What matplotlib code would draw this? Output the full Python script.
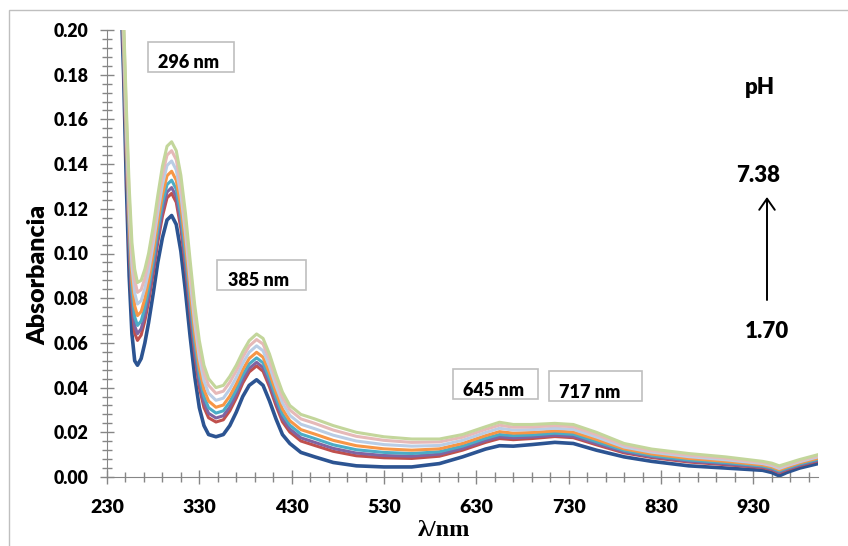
import matplotlib.pyplot as plt
from matplotlib.patches import Rectangle
from matplotlib.ticker import MultipleLocator, FormatStrFormatter

W, H = 848, 546
WEIGHT = 'heavy'

# wavelength grid (nm)
wl = [244, 248, 251, 254, 257, 260, 263, 267, 271, 275,
      280, 285, 290, 295, 300, 305, 310, 315, 320, 325,
      330, 335, 340, 348, 356, 363, 370, 377, 384, 392,
      399, 406, 413, 420, 428, 440, 455, 475, 500, 530,
      560, 590, 615, 640, 655, 670, 690, 715, 735, 760,
      790, 820, 860, 900, 940, 950, 958, 966, 980, 1000]

# absorbance spectra, highest pH (7.38) first
abs_738 = [.240, .205, .165, .130, .105, .093, .087, .088, .093, .100,
           .112, .126, .139, .148, .150, .146, .135, .118, .097, .077,
           .061, .050, .044, .040, .041, .045, .050, .056, .061, .064,
           .062, .055, .046, .038, .032, .028, .026, .023, .020, .018,
           .017, .017, .019, .0225, .0245, .0235, .0235, .024, .0235, .020,
           .015, .0125, .0105, .009, .007, .0062, .005, .006, .0078, .010]
abs_s2 = [.2388, .202, .1608, .1252, .1001, .0881, .0826, .0838, .089, .0963,
          .1084, .1224, .1352, .144, .146, .142, .1309, .1138, .0929, .0732,
          .0574, .0468, .041, .0374, .0384, .0424, .0475, .0536, .0586, .0615,
          .0595, .0525, .0436, .0357, .030, .026, .024, .021, .0182, .0164,
          .0155, .0157, .0178, .0213, .0232, .0223, .0224, .023, .0225, .019,
          .0143, .0118, .0098, .0084, .0065, .0057, .0045, .0055, .0073, .0095]
abs_s3 = [.2374, .1985, .1559, .1196, .0943, .0823, .0774, .0789, .0844, .0919,
          .1042, .1182, .1307, .1394, .1414, .1374, .1262, .1089, .0882, .0687,
          .0532, .043, .0375, .0343, .0353, .0393, .0445, .0508, .0558, .0587,
          .0565, .0495, .0408, .0331, .0276, .0236, .0216, .0187, .0161, .0145,
          .0138, .0141, .0164, .0199, .0218, .021, .0212, .0218, .0213, .0179,
          .0134, .0111, .0091, .0077, .006, .0051, .0038, .005, .0068, .009]
abs_s4 = [.236, .195, .151, .114, .0886, .0766, .0722, .074, .0798, .0876,
          .100, .114, .1262, .1348, .1368, .1328, .1214, .104, .0834, .0642,
          .049, .0392, .034, .0312, .0322, .0362, .0416, .048, .053, .0558,
          .0536, .0466, .038, .0304, .0252, .0212, .0192, .0164, .014, .0126,
          .012, .0126, .015, .0185, .0203, .0196, .0199, .0206, .0201, .0168,
          .0126, .0103, .0083, .007, .0054, .0045, .0032, .0044, .0063, .0084]
abs_s5 = [.2348, .192, .1468, .1092, .0837, .0717, .0678, .0698, .0758, .0839,
          .0964, .1104, .1224, .1308, .1328, .1288, .1173, .0998, .0793, .0604,
          .0454, .036, .031, .0286, .0296, .0336, .0391, .0456, .0506, .0533,
          .0511, .0441, .0356, .0281, .0232, .0192, .0172, .0144, .0122, .011,
          .0105, .0113, .0138, .0173, .019, .0185, .0188, .0196, .0191, .0158,
          .0119, .0096, .0076, .0064, .0049, .004, .0027, .0039, .0058, .0079]
abs_s6 = [.2338, .1895, .1433, .1052, .0796, .0676, .0641, .0663, .0725, .0808,
          .0934, .1074, .1192, .1275, .1295, .1255, .1139, .0963, .0759, .0572,
          .0424, .0333, .0285, .0264, .0274, .0314, .037, .0436, .0486, .0513,
          .049, .042, .0336, .0262, .0215, .0175, .0155, .0128, .0107, .0096,
          .0093, .0102, .0128, .0163, .018, .0175, .0179, .0187, .0182, .015,
          .0113, .0091, .0071, .0059, .0045, .0036, .0022, .0035, .0054, .0075]
abs_s7 = [.233, .1875, .1405, .102, .0763, .0643, .0611, .0635, .0699, .0783,
          .091, .105, .1166, .1249, .1269, .1229, .1112, .0935, .0732, .0546,
          .040, .0311, .0265, .0246, .0256, .0296, .0353, .042, .047, .0497,
          .0473, .0403, .032, .0247, .0201, .0161, .0141, .0115, .0095, .0086,
          .0083, .0093, .012, .0155, .0172, .0167, .0172, .0181, .0176, .0144,
          .0108, .0087, .0067, .0055, .0042, .0033, .0019, .0032, .0051, .0072]
abs_170 = [.230, .180, .130, .090, .064, .052, .050, .053, .060, .069,
           .082, .096, .107, .115, .117, .113, .101, .083, .063, .045,
           .031, .023, .019, .018, .019, .023, .029, .036, .041, .0435,
           .041, .034, .026, .019, .015, .011, .009, .0065, .005, .0045,
           .0045, .006, .009, .0125, .014, .0138, .0145, .0155, .015, .012,
           .009, .007, .005, .004, .003, .002, .0005, .002, .004, .006]

series = [abs_170, abs_s7, abs_s6, abs_s5, abs_s4, abs_s3, abs_s2, abs_738]
colors = ['#2C5492', '#C0504D', '#8064A2', '#4BACC6', '#F79646',
          '#B9CDE5', '#E6B9B8', '#C3D69B']

peak_labels = ['296 nm', '385 nm', '645 nm', '717 nm']


def fx(x):
    return x / W


def fy(y):
    return 1 - y / H


fig = plt.figure(figsize=(W / 100, H / 100), dpi=100)
fig.patches.append(Rectangle((fx(9), -0.01), 1.0, fy(10) + 0.01,
                             transform=fig.transFigure, fill=False,
                             edgecolor='#BFBFBF', linewidth=1))
ax = fig.add_axes([fx(107), fy(477), 711 / W, 447 / H])

for i, (s, c) in enumerate(zip(series, colors)):
    ax.plot(wl, s, color=c, lw=2.6 if i == 0 else 2.2, solid_joinstyle='round')

ax.set_xlim(230, 1000)
ax.set_ylim(0, 0.20)
ax.set_xticks(range(230, 1000, 100))
ax.set_xticks(range(250, 1000, 20), minor=True)
ax.yaxis.set_major_locator(MultipleLocator(0.02))
ax.yaxis.set_minor_locator(MultipleLocator(0.004))
ax.yaxis.set_major_formatter(FormatStrFormatter('%.2f'))

for side in ['top', 'right']:
    ax.spines[side].set_visible(False)
for side in ['left', 'bottom']:
    ax.spines[side].set_color('#868686')

ax.tick_params(which='major', direction='inout', length=10, color='#868686', width=1)
ax.tick_params(which='minor', direction='inout', length=6.5, color='#868686', width=1)
ax.tick_params(axis='x', which='major', pad=11)
ax.tick_params(axis='y', which='major', pad=8.5)
for lab in ax.get_xticklabels():
    lab.set_fontfamily('Lato')
    lab.set_fontweight(WEIGHT)
    lab.set_fontsize(14)
for lab in ax.get_yticklabels():
    lab.set_fontfamily('Lato')
    lab.set_fontweight(WEIGHT)
    lab.set_fontsize(12.7)

fig.text(fx(444), fy(531), 'λ/nm', family='Liberation Serif', fontweight='bold',
         fontsize=17.5, ha='center', va='center')
fig.text(fx(38), fy(275), 'Absorbancia', family='Lato', fontweight=WEIGHT,
         fontsize=18, rotation=90, ha='center', va='center')

# peak label boxes (pixel positions of box corners and text baseline)
boxes = [(148, 42, 234, 72, 158, 68), (217, 260, 306, 290, 228, 286),
         (453, 369, 538, 399, 463, 396), (549, 371, 642, 401, 559, 398)]
for txt, (x0, y0, x1, y1, tx, ty) in zip(peak_labels, boxes):
    fig.patches.append(Rectangle((fx(x0), fy(y1)), (x1 - x0) / W, (y1 - y0) / H,
                                 transform=fig.transFigure, facecolor='white',
                                 edgecolor='#BFBFBF', linewidth=1.2, zorder=5))
    fig.text(fx(tx), fy(ty), txt, family='Lato', fontweight=WEIGHT, fontsize=13,
             ha='left', va='baseline', zorder=6)

fig.text(fx(760), fy(87), 'pH', family='Lato', fontweight=WEIGHT, fontsize=16,
         ha='center', va='center')
fig.text(fx(758), fy(175), '7.38', family='Lato', fontweight=WEIGHT, fontsize=16,
         ha='center', va='center')
fig.text(fx(767), fy(331), '1.70', family='Lato', fontweight=WEIGHT, fontsize=16,
         ha='center', va='center')
fig.add_artist(plt.Annotation('', xy=(fx(767), fy(197)), xytext=(fx(767), fy(300)),
                              xycoords='figure fraction', textcoords='figure fraction',
                              arrowprops=dict(arrowstyle='->,head_length=0.5,head_width=0.35',
                                              color='black', lw=1.4, mutation_scale=16,
                                              shrinkA=0, shrinkB=0)))

fig.savefig('out.png', dpi=100)
